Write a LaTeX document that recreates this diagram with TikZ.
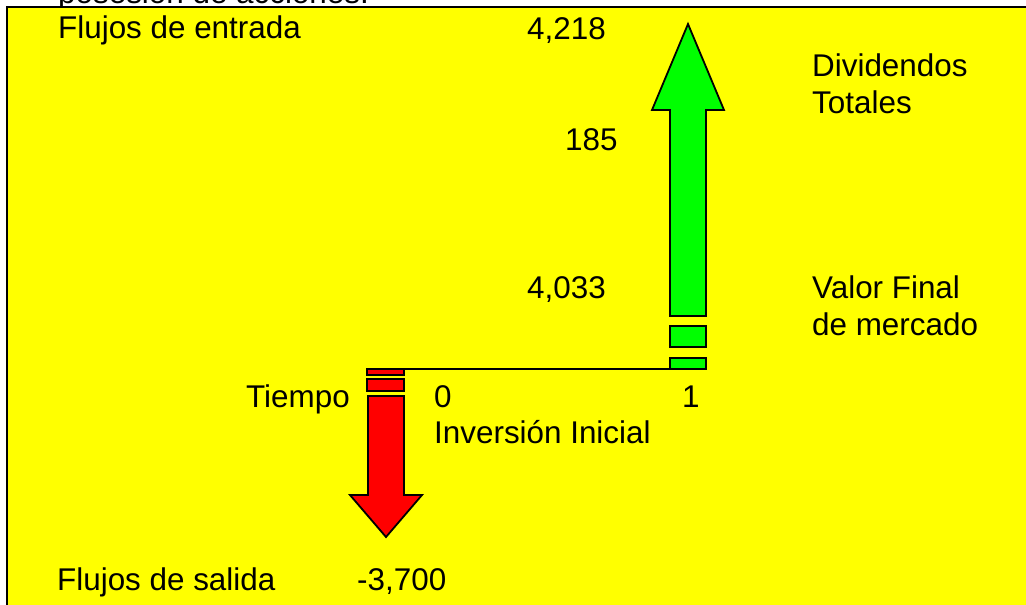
\documentclass[tikz,border=0pt]{standalone}
\usepackage{fontspec}
\setmainfont{Liberation Sans}
\definecolor{bgyellow}{HTML}{FFFF00}
\definecolor{upgreen}{HTML}{00FF00}
\definecolor{downred}{HTML}{FF0000}
\tikzset{
  lbl/.style={anchor=base west, inner sep=0pt, font=\fontsize{31.4}{37}\selectfont},
  shapeline/.style={draw=black, line width=1.8pt, line join=miter},
  greenpart/.style={shapeline, fill=upgreen},
  redpart/.style={shapeline, fill=downred},
  axisline/.style={draw=black, line width=1.5pt}
}
\begin{document}
\begin{tikzpicture}[x=1pt,y=-1pt]
\useasboundingbox (0,0) rectangle (1026,605);
\fill[white] (0,0) rectangle (1026,605);
\clip (0,0) rectangle (1026,605);
\node[lbl] (cut) at (58,3) {posesión de acciones.};
\draw[fill=bgyellow, line width=2pt] (7,7) rectangle (1040,620);
% labels
\node[lbl] (fe) at (58,38) {Flujos de entrada};
\node[lbl] (v4218) at (527,39) {4,218};
\node[lbl] (div1) at (812,76) {Dividendos};
\node[lbl] (div2) at (812,113) {Totales};
\node[lbl] (v185) at (565,150) {185};
\node[lbl] (v4033) at (527,298) {4,033};
\node[lbl] (vf1) at (812,298) {Valor Final};
\node[lbl] (vf2) at (812,335) {de mercado};
\node[lbl] (tiempo) at (246,407) {Tiempo};
\node[lbl] (t0) at (434,407) {0};
\node[lbl] (t1) at (682,407) {1};
\node[lbl] (inv) at (434,443) {Inversión Inicial};
\node[lbl] (fs) at (57,590) {Flujos de salida};
\node[lbl] (v3700) at (357,590) {-3,700};
% green arrow (inflows)
\draw[greenpart] (670,316) -- (670,110) -- (652,110) -- (688,24) -- (724,110) -- (706,110) -- (706,316) -- cycle;
\draw[greenpart] (670,326) rectangle (706,347);
\draw[greenpart] (670,358) rectangle (706,369);
% red arrow (outflow)
\draw[redpart] (367,369) rectangle (404,375);
\draw[redpart] (367,379) rectangle (404,391);
\draw[redpart] (368,396) -- (368,495) -- (350,495) -- (386,537) -- (422,495) -- (404,495) -- (404,396) -- cycle;
% time line
\coordinate (lstart) at (404,369);
\coordinate (lend) at (670,369);
\draw[axisline] (lstart) -- (lend);
\end{tikzpicture}
\end{document}
